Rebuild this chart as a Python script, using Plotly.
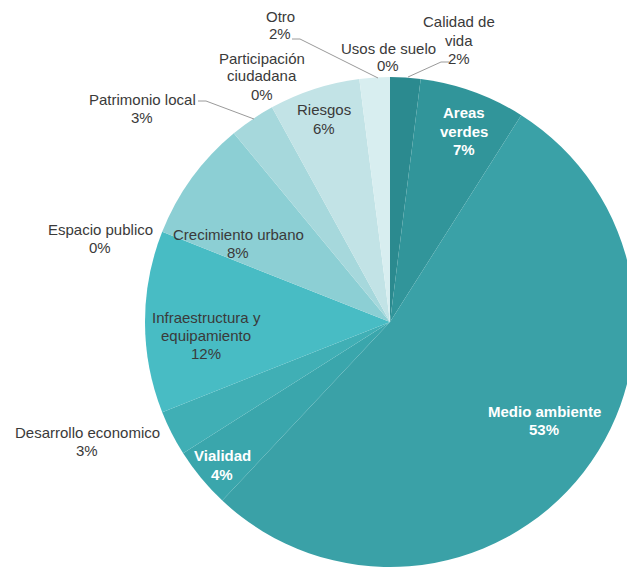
import plotly.graph_objects as go

# ---- data ----
categories = ["Calidad de vida", "Areas verdes", "Medio ambiente", "Vialidad",
              "Desarrollo economico", "Infraestructura y equipamiento",
              "Espacio publico", "Crecimiento urbano", "Patrimonio local",
              "Participación ciudadana", "Riesgos", "Otro", "Usos de suelo"]
values = [2, 7, 53, 4, 3, 12, 0, 8, 3, 0, 6, 2, 0]
label_lines = [["Calidad de", "vida"], ["Areas", "verdes"], ["Medio ambiente"],
               ["Vialidad"], ["Desarrollo economico"],
               ["Infraestructura y", "equipamiento"], ["Espacio publico"],
               ["Crecimiento urbano"], ["Patrimonio local"],
               ["Participación", "ciudadana"], ["Riesgos"], ["Otro"],
               ["Usos de suelo"]]

# ---- style ----
colors = ["#2b8a8f", "#31959a", "#3aa1a7", "#3aa6ac", "#40afb5", "#48bcc4",
          "#5cc4cb", "#8ccfd4", "#a6d8dc", "#b4dde1", "#c2e3e6", "#d8eef0",
          "#e4f3f4"]
W, H = 640, 571
# label anchor (px, centre of first line)
label_pos = [(459, 22), (464, 113), (544, 411), (222, 456), (87, 432),
             (206, 317), (100, 229), (238, 234), (142, 99), (262, 58),
             (324, 110), (280, 16), (388, 48)]
white_idx = {1, 2, 3}
line_step = 18
leaders = [
    [(449, 62), (441, 62), (408, 77)],   # Calidad de vida
    [(292, 39), (300, 39), (378, 78)],   # Otro
    [(198, 101), (206, 101), (254, 119)],  # Patrimonio local
]
FONT = "Liberation Sans, Arial, sans-serif"
FS = 15


def px(x):
    return x / W


def py(y):
    return 1 - y / H


fig = go.Figure(go.Pie(
    labels=categories, values=values, sort=False, direction="clockwise",
    rotation=0, marker=dict(colors=colors, line=dict(width=0)),
    textinfo="none", hoverinfo="label+percent", showlegend=False,
    domain=dict(x=[145 / W, 635 / W], y=[1 - 567 / H, 1 - 77 / H]),
))

annotations = []
for i, (lines, v) in enumerate(zip(label_lines, values)):
    x0, y0 = label_pos[i]
    allines = lines + [f"{v}%"]
    col = "#ffffff" if i in white_idx else "#3a3a3a"
    for k, t in enumerate(allines):
        txt = f"<b>{t}</b>" if i in white_idx else t
        annotations.append(dict(
            x=px(x0), y=py(y0 + k * line_step), xref="paper", yref="paper",
            text=txt, showarrow=False, xanchor="center", yanchor="middle",
            font=dict(family=FONT, size=FS, color=col)))

shapes = []
for pts in leaders:
    path = "M " + " L ".join(f"{px(a)},{py(b)}" for a, b in pts)
    shapes.append(dict(type="path", xref="paper", yref="paper", path=path,
                       line=dict(color="#9a9a9a", width=1)))

fig.update_layout(width=W, height=H, margin=dict(l=0, r=0, t=0, b=0),
                  paper_bgcolor="white", plot_bgcolor="white",
                  annotations=annotations, shapes=shapes)

fig.write_html("out.html", config={"displayModeBar": False}, post_script=(
    "document.body.style.margin='0';document.body.style.overflow='hidden';"))
